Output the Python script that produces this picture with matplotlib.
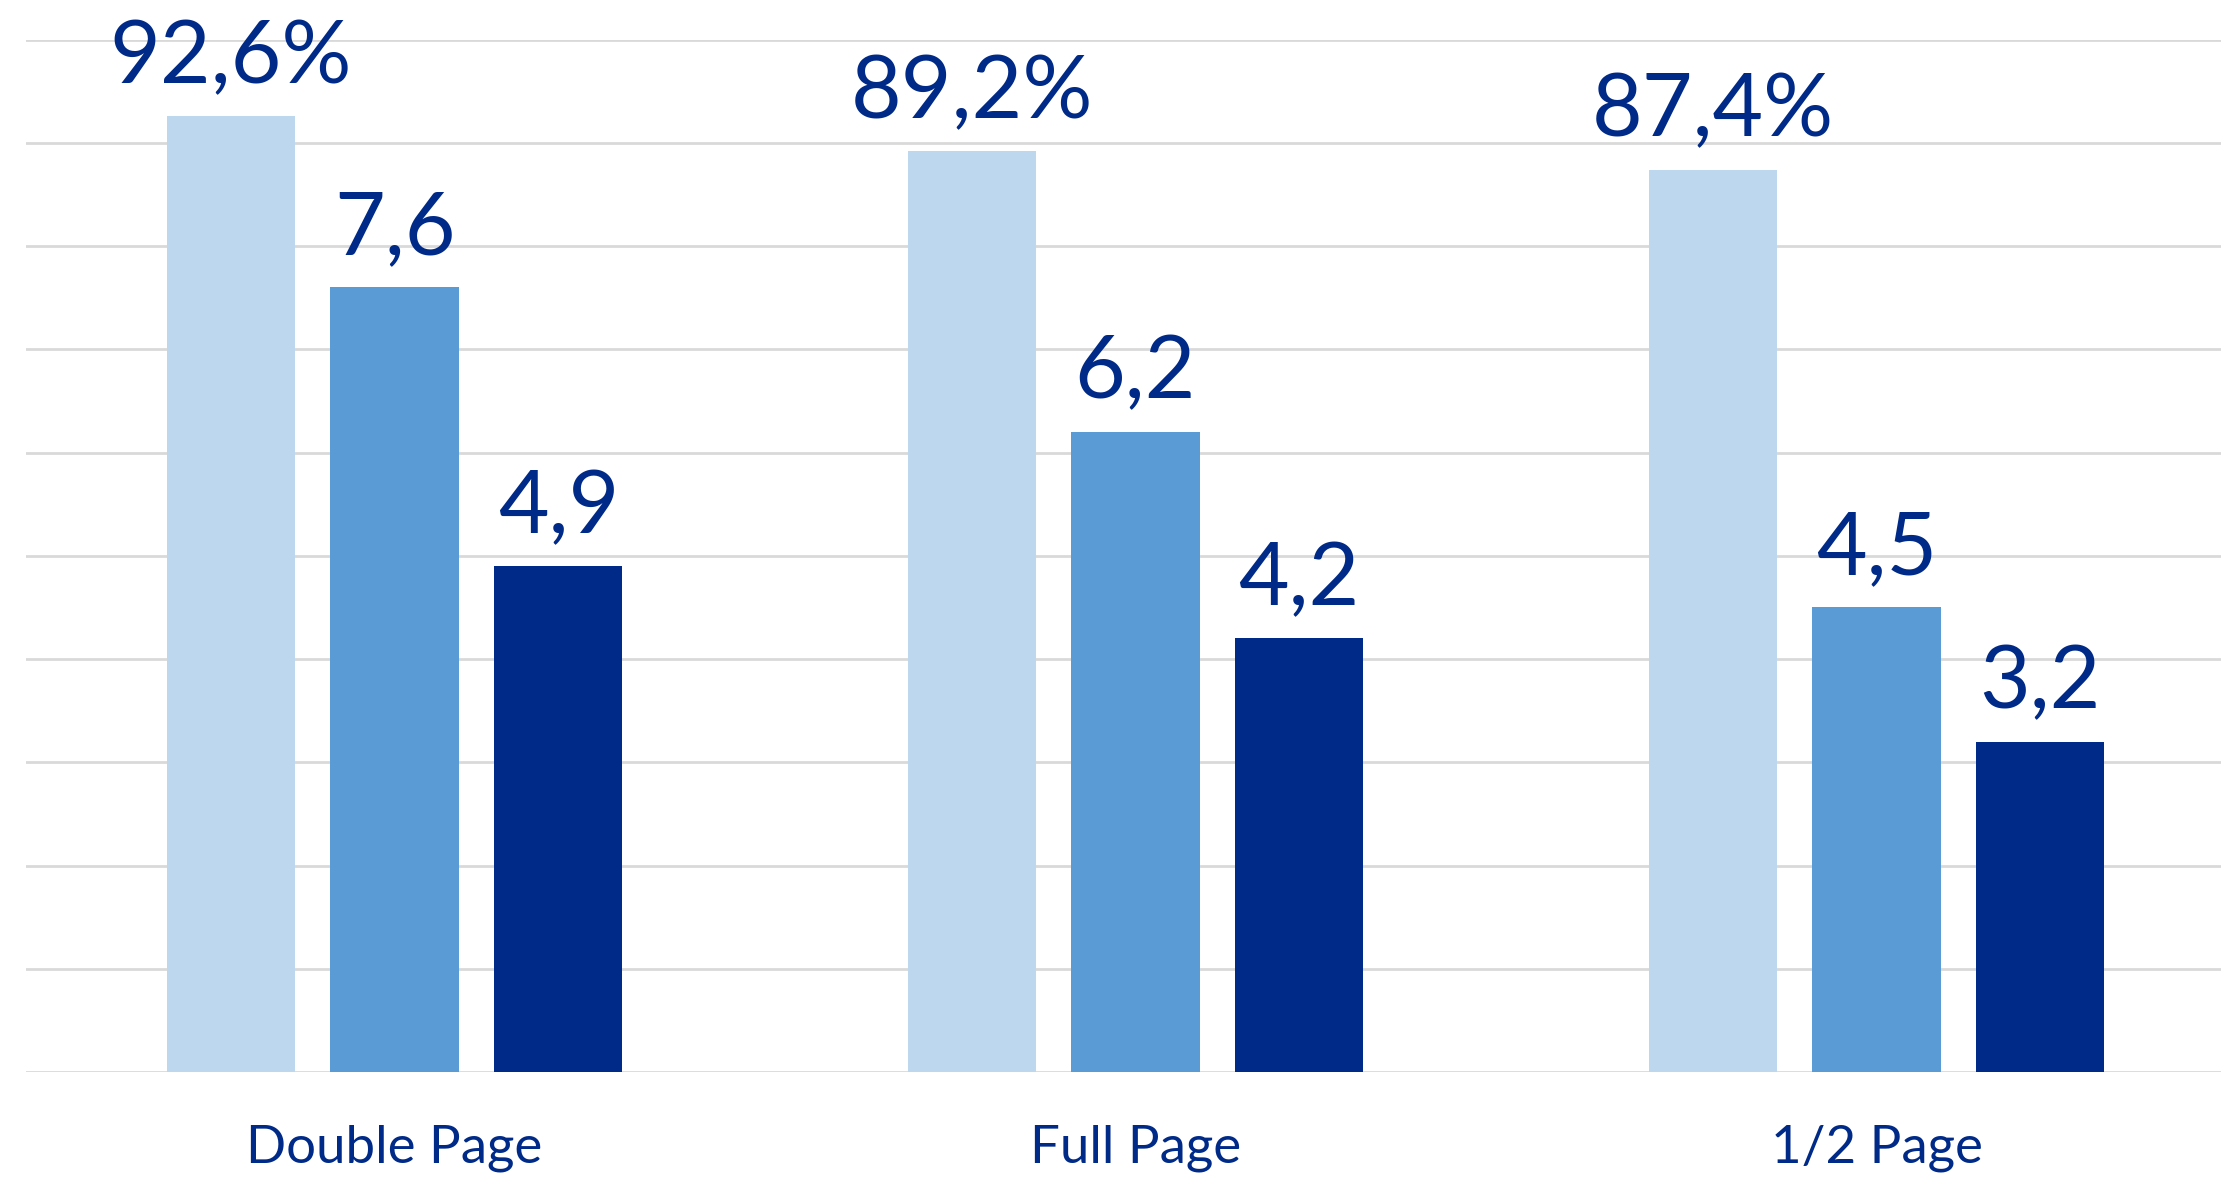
import numpy as np
import matplotlib.pyplot as plt

# data
categories = ["Double Page", "Full Page", "1/2 Page"]
share_pct = [92.6, 89.2, 87.4]
series_b = [7.6, 6.2, 4.5]
series_c = [4.9, 4.2, 3.2]

colors = ["#BDD7EE", "#5B9BD5", "#002A87"]
text_color = "#002A87"
grid_color = "#D9D9D9"

plt.rcParams['font.family'] = ['Lato', 'DejaVu Sans']

W, H = 2221, 1182
fig = plt.figure(figsize=(W / 100, H / 100), dpi=100)

# axes placement in pixels
left, right = 25.5, 2221
top, bottom = 39.7, 1072
ax = fig.add_axes([left / W, 1 - bottom / H, (right - left) / W, (bottom - top) / H])
ax2 = ax.twinx()

x = np.arange(len(categories))
width = 0.173
step = 0.221

b1 = ax.bar(x - step, share_pct, width, color=colors[0], zorder=3)
b2 = ax2.bar(x, series_b, width, color=colors[1], zorder=3)
b3 = ax2.bar(x + step, series_c, width, color=colors[2], zorder=3)

ax.set_xlim(-0.498, 2.465)
ax.set_ylim(0, 100)
ax2.set_ylim(0, 10)

ax.set_yticks(np.arange(0, 101, 10))
ax.yaxis.grid(True, color=grid_color, linewidth=2)
ax.set_axisbelow(True)
ax.tick_params(axis='both', length=0)
ax.set_yticklabels([])
ax2.set_yticks([])
ax.set_xticks(x)
ax.set_xticklabels(categories, fontsize=38, color=text_color)
ax.tick_params(axis='x', pad=38)
for a in (ax, ax2):
    for s in a.spines.values():
        s.set_visible(False)

def fmt(v):
    return f"{v:.1f}".replace(".", ",")

for rect, v in zip(b1, share_pct):
    ax.annotate(fmt(v) + "%", (rect.get_x() + rect.get_width() / 2, rect.get_height()),
                xytext=(0, 24), textcoords="offset points", ha="center", va="baseline",
                fontsize=63, color=text_color)
for bars, vals in ((b2, series_b), (b3, series_c)):
    for rect, v in zip(bars, vals):
        ax2.annotate(fmt(v), (rect.get_x() + rect.get_width() / 2, rect.get_height()),
                     xytext=(0, 24), textcoords="offset points", ha="center", va="baseline",
                     fontsize=63, color=text_color)

fig.savefig("out.png", dpi=100)
